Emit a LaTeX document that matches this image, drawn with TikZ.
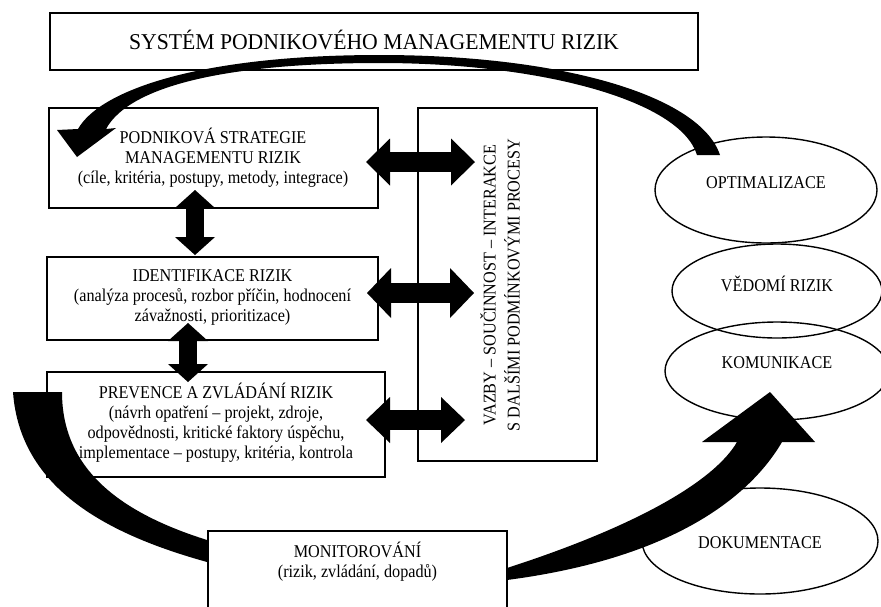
\documentclass[tikz,border=0pt]{standalone}
\usepackage{fontspec}
\setmainfont{Liberation Serif}
\newfontfamily\boxfont{Liberation Serif}[FakeStretch=0.9]
\newfontfamily\titlefont{Liberation Serif}[FakeStretch=0.96]
\usetikzlibrary{arrows.meta,shapes.geometric}
\begin{document}
\begin{tikzpicture}[x=1pt,y=-1pt,
  box/.style={draw, line width=1.6pt, rectangle, inner sep=0pt},
  ell/.style={draw, line width=1.4pt, ellipse, inner sep=0pt},
  txt/.style={align=center, inner sep=0pt, font=\boxfont\fontsize{18}{20}\selectfont},
  dbl/.style n args={3}{line width=#1,
    arrows={Triangle[width=#2,length=#3,line width=0pt]-Triangle[width=#2,length=#3,line width=0pt]}},
  bigarrow/.style={fill=black}
]
\useasboundingbox (0,0) rectangle (881,606);
\clip (0,0) rectangle (881,606);
\fill[white] (0,0) rectangle (881,606);

% boxes
\node[box, minimum width=648pt, minimum height=57pt] (title) at (374,41.5) {};
\node[box, minimum width=329pt, minimum height=100pt] (strat) at (213.5,158) {};
\node[box, minimum width=331pt, minimum height=83pt] (ident) at (212.5,298.5) {};
\node[box, minimum width=338pt, minimum height=105pt] (prev) at (216,424.5) {};
\node[box, minimum width=179pt, minimum height=353pt] (vazby) at (507.5,284.5) {};
\node[box, minimum width=299pt, minimum height=89pt] (monit) at (357.5,575.5) {};

% ellipses
\node[ell, minimum width=222pt, minimum height=106pt] (opt) at (766,190) {};
\node[ell, minimum width=210pt, minimum height=94pt] (ved) at (777,291) {};
\node[ell, minimum width=224pt, minimum height=98pt] (kom) at (777,371) {};
\node[ell, minimum width=236pt, minimum height=106pt] (dok) at (760,541) {};

% texts
\node[inner sep=0pt, font=\titlefont\fontsize{22.6}{26}\selectfont] (titletxt) at (374,40) {SYSTÉM PODNIKOVÉHO MANAGEMENTU RIZIK};
\node[txt] (strattxt) at (213,158) {PODNIKOVÁ STRATEGIE\\MANAGEMENTU RIZIK\\(cíle, kritéria, postupy, metody, integrace)};
\node[txt] (identtxt) at (212.5,297) {IDENTIFIKACE RIZIK\\(analýza procesů, rozbor příčin, hodnocení\\závažnosti, prioritizace)};
\node[txt] (prevtxt) at (216,423) {PREVENCE A ZVLÁDÁNÍ RIZIK\\(návrh opatření – projekt, zdroje,\\odpovědnosti, kritické faktory úspěchu,\\implementace – postupy, kritéria, kontrola};
\node[txt, rotate=90, font=\boxfont\fontsize{18}{24}\selectfont] (vazbytxt) at (500,285) {VAZBY – SOUČINNOST – INTERAKCE\\S DALŠÍMI PODMÍNKOVÝMI PROCESY};
\node[txt] (monittxt) at (357.5,562) {MONITOROVÁNÍ\\(rizik, zvládání, dopadů)};
\node[txt] (opttxt) at (766,183) {OPTIMALIZACE};
\node[txt] (vedtxt) at (777,284) {VĚDOMÍ RIZIK};
\node[txt] (komtxt) at (777,363) {KOMUNIKACE};
\node[txt] (doktxt) at (760,543) {DOKUMENTACE};

% double block arrows
\coordinate (a1) at (195,190); \coordinate (a2) at (195,255);
\coordinate (b1) at (188,323); \coordinate (b2) at (188,382);
\coordinate (h1a) at (366,162); \coordinate (h1b) at (475,162);
\coordinate (h2a) at (367,293); \coordinate (h2b) at (474,293);
\coordinate (h3a) at (366,420); \coordinate (h3b) at (465,420);
\draw[dbl={18pt}{40pt}{18pt}] (a1) -- (a2);
\draw[dbl={18pt}{40pt}{18pt}] (b1) -- (b2);
\draw[dbl={20pt}{47pt}{24pt}] (h1a) -- (h1b);
\draw[dbl={20pt}{50pt}{24pt}] (h2a) -- (h2b);
\draw[dbl={20pt}{46pt}{24pt}] (h3a) -- (h3b);

% curved arrow: optimalizace -> strategie
\fill[bigarrow] (720,155) .. controls (700,95) and (560,55) .. (380,55)
  .. controls (200,55) and (100,90) .. (78,129)
  -- (57,130) -- (77,157) -- (116,128) -- (106,129)
  .. controls (130,85) and (230,63) .. (380,63)
  .. controls (540,63) and (680,100) .. (697,155) -- cycle;

% curved band: prevence -> monitorovani
\fill[bigarrow] (13,392) -- (62,392) .. controls (62,468) and (118,512) .. (207,540)
  -- (207,562) .. controls (110,535) and (20,490) .. (13,392) -- cycle;

% curved arrow: monitorovani -> komunikace
\fill[bigarrow] (507,568) .. controls (640,525) and (715,480) .. (737,442)
  -- (702,442) -- (770,392) -- (815,442) -- (782,442)
  .. controls (745,505) and (660,560) .. (507,580) -- cycle;
\end{tikzpicture}
\end{document}
